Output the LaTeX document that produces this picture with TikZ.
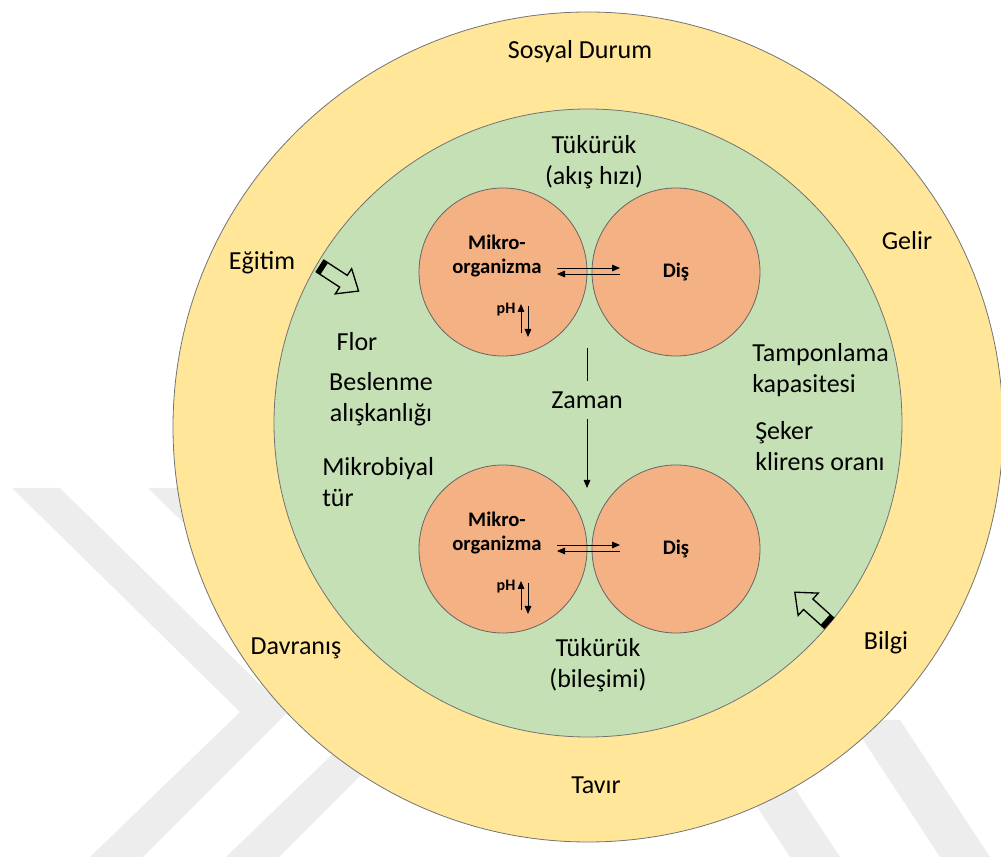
\documentclass[tikz,border=0pt]{standalone}
\usepackage{fontspec}
\setmainfont{Carlito}
\usetikzlibrary{arrows.meta,calc}
\definecolor{ringyellow}{HTML}{FFE699}
\definecolor{ringgreen}{HTML}{C5E0B4}
\definecolor{cellorange}{HTML}{F4B183}
\definecolor{markgray}{HTML}{EDEDED}
\tikzset{
  ring/.style={draw=black!55, line width=0.6pt},
  cell/.style={circle, draw=black!60, line width=0.6pt, fill=cellorange,
    minimum size=126pt, inner sep=0pt},
  lbl/.style={font=\fontsize{19.5}{23.4}\selectfont, align=center, inner sep=0pt},
  blbl/.style={font=\bfseries\fontsize{15.5}{18.5}\selectfont, align=center, inner sep=0pt},
  phlbl/.style={font=\bfseries\fontsize{12}{14}\selectfont, inner sep=0pt},
  tip/.style={-{Triangle[length=6pt,width=5pt]}, line width=0.6pt},
  blockarrow/.style={draw=black, line width=1pt, fill=ringgreen, line join=miter},
}

\begin{document}
\begin{tikzpicture}[x=0.75pt,y=-0.75pt]
\useasboundingbox (0,0) rectangle (1001,862);

% watermark behind the rings
\fill[markgray] (12,488) -- (60,488) -- (288,712) -- (143,857) -- (90,857) -- (240,712) -- cycle;
\fill[markgray] (148,488) -- (196,488) -- (424,712) -- (279,857) -- (226,857) -- (376,712) -- cycle;
\fill[markgray] (700,720) -- (750,720) -- (840,857) -- (790,857) -- cycle;
\fill[markgray] (850,720) -- (900,720) -- (990,857) -- (940,857) -- cycle;

% rings
\draw[ring, fill=ringyellow] (588,427) circle[radius=415];
\draw[ring, fill=ringgreen] (588,423) circle[radius=314];

% outer ring texts
\node[lbl] (sosyal) at (580,52) {Sosyal Durum};
\node[lbl] (gelir) at (907,241) {Gelir};
\node[lbl] (egitim) at (262,263) {Eğitim};
\node[lbl] (davranis) at (296,648) {Davranış};
\node[lbl] (bilgi) at (886,643) {Bilgi};
\node[lbl] (tavir) at (596,785) {Tavır};

% inner ring texts
\node[lbl] (tukuruk1) at (594,162) {Tükürük\\(akış hızı)};
\node[lbl] (tukuruk2) at (598,665) {Tükürük\\(bileşimi)};
\node[lbl] (flor) at (357,342) {Flor};
\node[lbl] (beslenme) at (381,399) {Beslenme\\alışkanlığı};
\node[lbl, anchor=west, align=left] (mikrobiyal) at (322,482) {Mikrobiyal\\tür};
\node[lbl, anchor=west, align=left] (tampon) at (752,370) {Tamponlama\\kapasitesi};
\node[lbl, anchor=west, align=left] (seker) at (755,446) {Şeker\\klirens oranı};

% block arrows
\begin{scope}[shift={(320,266)}, rotate=-33]
  \draw[blockarrow] (0,-7) -- (28,-7) -- (28,-15) -- (46,0) -- (28,15) -- (28,7) -- (0,7) -- cycle;
  \fill[black] (0,-7) rectangle (5,7);
\end{scope}
\begin{scope}[shift={(829,623)}, rotate=138]
  \draw[blockarrow] (0,-7) -- (28,-7) -- (28,-15) -- (46,0) -- (28,15) -- (28,7) -- (0,7) -- cycle;
  \fill[black] (0,-7) rectangle (5,7);
\end{scope}

% the two cells, before and after
\foreach \dy/\n in {0/1,277/2}
{
  \node[cell] (mikro\n) at (503,272+\dy) {};
  \node[cell, font=\bfseries\fontsize{15.5}{18.5}\selectfont] (dis\n) at (676,272+\dy) {Diş};
  \node[blbl] (mo\n) at (497,256+\dy) {Mikro-\\organizma};
  \node[phlbl] (ph\n) at (506,310+\dy) {pH};
  \coordinate (ma\n) at (557,268+\dy);
  \coordinate (da\n) at (620,268+\dy);
  \draw[tip] (ma\n) -- (da\n);
  \draw[tip] ([yshift=-4.5pt]da\n) -- ([yshift=-4.5pt]ma\n);
  \coordinate (phu\n) at (521,333+\dy);
  \coordinate (phd\n) at (528,306+\dy);
  \draw[tip] (phu\n) -- ++(0,-29);
  \draw[tip] (phd\n) -- ++(0,31);
}

% time
\node[lbl, inner sep=8pt] (zaman) at (587,400) {Zaman};
\coordinate (zt) at (587,348);
\coordinate (zb) at (587,488);
\draw[line width=0.6pt] (zt) -- (zaman.north);
\draw[tip] (zaman.south) -- (zb);

\end{tikzpicture}
\end{document}
